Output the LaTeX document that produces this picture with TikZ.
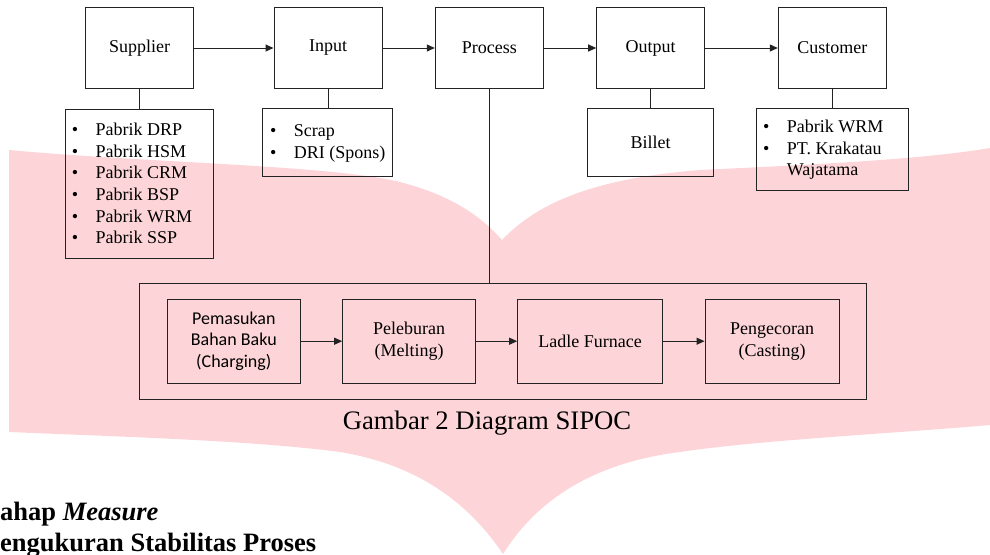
\documentclass[tikz,border=0pt]{standalone}
\usepackage{fontspec}
\setmainfont{Liberation Serif}
\newfontfamily\calib{Carlito}
\usetikzlibrary{arrows.meta}
\definecolor{wm}{RGB}{253,213,216}
\definecolor{ln}{RGB}{35,35,35}
\newcommand\bul[1]{\makebox[23.7pt][l]{\textbullet}#1}
\begin{document}
\begin{tikzpicture}[x=1pt,y=-1pt,
  txt/.style={font=\fontsize{18}{21.7}\selectfont},
  topbox/.style={draw=ln,line width=1pt,inner sep=0pt,minimum width=108pt,minimum height=81.5pt,txt},
  listbox/.style={draw=ln,line width=1pt,inner sep=0pt},
  listtxt/.style={anchor=west,inner sep=0pt,align=left,txt},
  stepbox/.style={draw=ln,line width=1pt,inner sep=0pt,minimum height=84.3pt,align=center,txt},
  arr/.style={draw=ln,line width=1pt,-{Triangle[length=8pt,width=7pt]}},
  lnk/.style={draw=ln,line width=1pt}
]
\useasboundingbox (0,0) rectangle (990,554);
% watermark
\fill[wm] (9,150) .. controls (150,163) and (330,165) .. (400,182)
  .. controls (450,195) and (480,215) .. (502,240)
  .. controls (540,200) and (600,178) .. (700,170)
  .. controls (850,163) and (930,158) .. (990,148)
  -- (990,425) .. controls (900,433) and (760,440) .. (680,452)
  .. controls (600,462) and (540,495) .. (503,554)
  .. controls (470,505) and (420,465) .. (340,452)
  .. controls (250,440) and (100,436) .. (9,432) -- cycle;
% top row
\node[topbox] (sup) at (139.5,48) {Supplier};
\node[topbox] (inp) at (328,48) {Input};
\node[topbox] (pro) at (489.3,48) {Process};
\node[topbox] (out) at (650.7,48) {Output};
\node[topbox] (cus) at (832.3,48) {Customer};
\draw[arr] (sup) -- (inp);
\draw[arr] (inp) -- (pro);
\draw[arr] (pro) -- (out);
\draw[arr] (out) -- (cus);
% lists
\node[listbox,minimum width=148pt,minimum height=149pt] (supl) at (139.7,183.5) {};
\node[listtxt] (supt) at (71.7,183.5) {\bul{Pabrik DRP}\\\bul{Pabrik HSM}\\\bul{Pabrik CRM}\\\bul{Pabrik BSP}\\\bul{Pabrik WRM}\\\bul{Pabrik SSP}};
\node[listbox,minimum width=129.7pt,minimum height=67.7pt] (inpl) at (327.8,142.8) {};
\node[listtxt] (inpt) at (270,143.2) {\bul{Scrap}\\\bul{DRI (Spons)}};
\node[listbox,minimum width=126pt,minimum height=67.7pt,txt] (outl) at (650.7,142.8) {Billet};
\node[listbox,minimum width=151.6pt,minimum height=81.7pt] (cusl) at (832.5,149.8) {};
\node[listtxt] (cust) at (763,149.8) {\bul{Pabrik WRM}\\\bul{PT. Krakatau}\\\hspace*{23.7pt}Wajatama};
\draw[lnk] (sup.south) -- (sup.south |- supl.north);
\draw[lnk] (inp.south) -- (inp.south |- inpl.north);
\draw[lnk] (out.south) -- (out.south |- outl.north);
\draw[lnk] (cus.south) -- (cus.south |- cusl.north);
% process detail
\node[listbox,minimum width=727.4pt,minimum height=115.7pt] (big) at (503,341.2) {};
\draw[lnk] (pro.south) -- (pro.south |- big.north);
\node[stepbox,minimum width=133pt,font=\calib\fontsize{18}{21.5}\selectfont] (s1) at (233.8,341.2) {Pemasukan\\Bahan Baku\\(Charging)};
\node[stepbox,minimum width=132.6pt,font=\fontsize{18}{22}\selectfont] (s2) at (409,341.2) {Peleburan\\(Melting)};
\node[stepbox,minimum width=144.6pt] (s3) at (590,341.2) {Ladle Furnace};
\node[stepbox,minimum width=134.3pt,font=\fontsize{18}{22}\selectfont] (s4) at (772.2,341.2) {Pengecoran\\(Casting)};
\draw[arr] (s1) -- (s2);
\draw[arr] (s2) -- (s3);
\draw[arr] (s3) -- (s4);
% caption
\node[anchor=base,inner sep=0pt,font=\fontsize{26.7}{32}\selectfont] (cap) at (487,429.3) {Gambar 2 Diagram SIPOC};
% bottom text
\node[anchor=base west,inner sep=0pt,font=\bfseries\fontsize{26.5}{32}\selectfont] (h1) at (0,520) {ahap \textit{Measure}};
\node[anchor=base west,inner sep=0pt,font=\bfseries\fontsize{26.5}{32}\selectfont] (h2) at (0,551.5) {engukuran Stabilitas Proses};
\end{tikzpicture}
\end{document}
